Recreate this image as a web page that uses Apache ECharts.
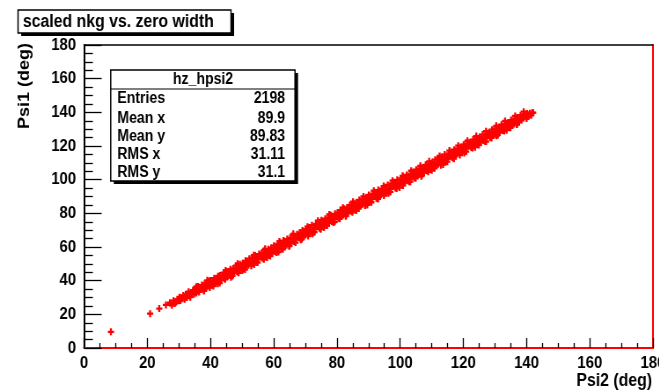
<!DOCTYPE html>
<html><head><meta charset="utf-8">
<script src="https://cdn.jsdelivr.net/npm/echarts@6/dist/echarts.min.js"></script>
<style>
html,body{margin:0;padding:0;background:#fff;overflow:hidden;width:659px;height:390px;}
#chart{width:749px;height:390px;transform:scaleX(0.88);transform-origin:0 0;}
</style></head><body><div id="chart"></div>
<script>
const titleText = 'scaled nkg vs. zero width';
const xAxisTitle = 'Psi2 (deg)';
const yAxisTitle = 'Psi1 (deg)';
const histName = 'hz_hpsi2';
const statsLabels = ['Entries', 'Mean x', 'Mean y', 'RMS x', 'RMS y'];
const statsValues = ['2198', '89.9', '89.83', '31.11', '31.1'];
const xRange = [0, 180, 20];
const yRange = [0, 180, 20];
// isolated low points [Psi2, Psi1]
const lowPoints = [[8.5,9.6],[20.9,20.4],[23.8,23.4],[25.9,25.6]];
// main band of points [Psi2, Psi1]
const bandPoints = [
[27.2,26.9],[27.8,25.4],[28.3,28.1],[28.7,26.5],[29.1,27.2],[29.6,29.0],[29.9,28.0],
[30.2,30.1],[30.5,28.2],[30.9,29.3],[31.0,29.5],[31.4,31.2],[31.8,28.9],
[32.2,31.8],[32.5,30.0],[32.9,31.1],[33.1,33.4],[33.4,31.0],[33.8,32.2],
[34.0,32.4],[34.5,34.3],[34.8,31.9],[35.2,34.9],[35.5,32.6],[35.9,33.8],
[36.1,36.6],[36.4,33.3],[36.8,35.2],[37.0,34.7],[37.3,37.4],[37.7,36.1],[37.9,33.9],
[38.2,38.3],[38.5,35.4],[38.9,36.9],[39.1,37.2],[39.4,39.6],[39.8,35.9],
[40.0,40.1],[40.3,37.6],[40.7,39.0],[40.9,36.8],[41.2,41.5],[41.5,38.8],[41.8,40.2],
[42.1,39.3],[42.4,42.6],[42.7,41.0],[42.9,38.6],[43.0,43.1],[43.4,40.4],[43.8,42.0],
[44.2,44.7],[44.5,41.3],[44.9,43.2],[44.6,40.8],[45.1,45.4],[45.4,42.5],[45.8,44.1],
[46.0,43.2],[46.3,46.8],[46.6,45.0],[46.9,42.8],[47.2,47.3],[47.5,44.6],[47.8,46.0],
[48.1,48.9],[48.4,45.3],[48.7,47.2],[48.9,44.7],[49.0,46.4],[49.3,49.7],[49.7,48.1],
[50.2,50.4],[50.5,47.1],[50.8,49.3],[50.9,46.6],[51.1,51.8],[51.4,48.7],[51.8,50.2],
[52.0,49.2],[52.3,53.0],[52.6,51.1],[52.9,48.9],[53.2,53.5],[53.5,50.4],[53.9,52.3],
[54.1,54.9],[54.4,51.2],[54.7,53.1],[54.9,50.8],[55.0,52.6],[55.4,55.8],[55.8,54.2],
[56.2,56.4],[56.5,53.3],[56.8,55.0],[56.9,52.7],[57.1,57.9],[57.4,54.5],[57.7,56.3],
[58.0,55.1],[58.3,58.7],[58.6,57.0],[58.9,54.6],[59.2,59.4],[59.5,56.2],[59.9,58.1],
[60.1,60.8],[60.4,57.3],[60.7,59.2],[60.9,56.7],[61.0,58.4],[61.4,61.9],[61.8,60.0],
[62.2,62.3],[62.5,59.1],[62.8,61.2],[62.9,58.6],[63.1,63.8],[63.4,60.6],[63.7,62.1],
[64.0,61.0],[64.3,64.7],[64.6,63.0],[64.9,60.5],[65.2,65.3],[65.5,62.3],[65.9,64.2],
[66.1,66.9],[66.4,63.2],[66.7,65.1],[66.9,62.6],[67.0,64.5],[67.4,67.6],[67.8,66.0],
[68.2,68.4],[68.5,65.0],[68.8,67.2],[68.9,64.7],[69.1,69.8],[69.4,66.6],[69.7,68.1],
[70.0,67.1],[70.3,70.6],[70.6,69.0],[70.9,66.5],[71.2,71.4],[71.5,68.2],[71.9,70.3],
[72.1,72.9],[72.4,69.1],[72.7,71.0],[72.9,68.8],[73.0,70.5],[73.4,73.7],[73.8,72.2],
[74.2,74.3],[74.5,71.2],[74.8,73.1],[74.9,70.6],[75.1,75.9],[75.4,72.4],[75.7,74.0],
[76.0,73.0],[76.3,76.8],[76.6,75.1],[76.9,72.7],[77.2,77.5],[77.5,74.3],[77.9,76.2],
[78.1,78.9],[78.4,75.2],[78.7,77.0],[78.9,74.6],[79.0,76.6],[79.4,79.7],[79.8,78.1],
[80.2,80.4],[80.5,77.1],[80.8,79.3],[80.9,76.8],[81.1,81.9],[81.4,78.5],[81.7,80.0],
[82.0,79.0],[82.3,82.7],[82.6,81.2],[82.9,78.7],[83.2,83.3],[83.5,80.3],[83.9,82.1],
[84.1,84.8],[84.4,81.2],[84.7,83.0],[84.9,80.6],[85.0,82.5],[85.4,85.7],[85.8,84.2],
[86.2,86.4],[86.5,83.1],[86.8,85.0],[86.9,82.8],[87.1,87.9],[87.4,84.6],[87.7,86.1],
[88.0,85.2],[88.3,88.6],[88.6,87.0],[88.9,84.7],[89.2,89.3],[89.5,86.2],[89.9,88.2],
[90.1,90.9],[90.4,87.3],[90.7,89.1],[90.9,86.6],[91.0,88.4],[91.4,91.7],[91.8,90.0],
[92.2,92.4],[92.5,89.0],[92.8,91.2],[92.9,88.7],[93.1,93.8],[93.4,90.5],[93.7,92.0],
[94.0,91.1],[94.3,94.6],[94.6,93.1],[94.9,90.6],[95.2,95.4],[95.5,92.2],[95.9,94.1],
[96.1,96.9],[96.4,93.2],[96.7,95.0],[96.9,92.7],[97.0,94.5],[97.4,97.8],[97.8,96.2],
[98.2,98.3],[98.5,95.1],[98.8,97.1],[98.9,94.8],[99.1,99.9],[99.4,96.5],[99.7,98.0],
[100.0,97.1],[100.3,100.7],[100.6,99.1],[100.9,96.6],[101.2,101.4],[101.5,98.2],[101.9,100.2],
[102.1,102.8],[102.4,99.3],[102.7,101.0],[102.9,98.7],[103.0,100.4],[103.4,103.6],[103.8,102.1],
[104.2,104.4],[104.5,101.1],[104.8,103.2],[104.9,100.8],[105.1,105.9],[105.4,102.5],[105.7,104.0],
[106.0,103.1],[106.3,106.7],[106.6,105.1],[106.9,102.6],[107.2,107.3],[107.5,104.2],[107.9,106.1],
[108.1,108.8],[108.4,105.3],[108.7,107.0],[108.9,104.7],[109.0,106.5],[109.4,109.6],[109.8,108.2],
[110.2,110.4],[110.5,107.1],[110.8,109.2],[110.9,106.8],[111.1,111.9],[111.4,108.6],[111.7,110.0],
[112.0,109.1],[112.3,112.7],[112.6,111.1],[112.9,108.6],[113.2,113.4],[113.5,110.2],[113.9,112.1],
[114.1,114.9],[114.4,111.2],[114.7,113.0],[114.9,110.7],[115.0,112.4],[115.4,115.6],[115.8,114.2],
[116.2,116.3],[116.5,113.1],[116.8,115.2],[116.9,112.8],[117.1,117.8],[117.4,114.5],[117.7,116.0],
[118.0,115.2],[118.3,118.6],[118.6,117.1],[118.9,114.6],[119.2,119.4],[119.5,116.2],[119.9,118.1],
[120.1,120.8],[120.4,117.2],[120.7,119.0],[120.9,116.7],[121.0,118.4],[121.4,121.6],[121.8,120.1],
[122.2,122.3],[122.5,119.1],[122.8,121.2],[122.9,118.8],[123.1,123.8],[123.4,120.4],[123.7,122.0],
[124.0,121.0],[124.3,124.5],[124.6,123.1],[124.9,120.6],[125.2,125.3],[125.5,122.2],[125.9,124.1],
[126.1,126.8],[126.4,123.3],[126.7,125.0],[126.9,122.7],[127.0,124.5],[127.4,127.5],[127.8,126.1],
[128.2,128.2],[128.5,125.1],[128.8,127.2],[128.9,124.8],[129.1,129.7],[129.4,126.4],[129.7,128.0],
[130.0,127.0],[130.3,130.4],[130.6,129.0],[130.9,126.6],[131.2,131.1],[131.5,128.1],[131.9,130.0],
[132.1,132.6],[132.4,129.2],[132.7,131.0],[132.9,128.9],[133.0,130.4],[133.4,133.3],[133.8,132.0],
[134.2,134.0],[134.5,131.1],[134.8,133.1],[134.9,130.8],[135.1,135.4],[135.4,132.3],[135.7,134.0],
[136.0,133.1],[136.3,136.2],[136.6,135.0],[136.9,132.8],[137.2,137.0],[137.5,134.2],[137.9,136.1],
[138.1,138.3],[138.4,135.4],[138.7,137.0],[139.0,136.6],[139.4,138.9],[139.8,137.8],
[140.2,139.3],[140.5,137.5],[140.8,138.6],[141.1,139.4],[141.5,138.3],[141.8,139.7],[142.1,139.8]
];
// scattered points along the upper and lower edges of the band [Psi2, Psi1]
const bandEdgePoints = [
[35.5,36.4],[39.0,40.2],[44.8,46.1],[48.6,50.0],[53.7,55.1],[57.3,58.9],[61.8,63.3],[66.2,67.8],
[70.7,72.1],[74.0,75.6],[77.6,79.3],[81.9,83.3],[85.1,86.9],[88.4,90.0],[91.7,93.4],[94.8,96.2],
[97.6,99.4],[100.8,102.3],[103.5,105.3],[106.4,108.2],[109.2,110.9],[112.5,114.1],[115.6,117.3],
[118.4,120.2],[121.3,123.1],[124.1,125.9],[127.2,128.8],[130.4,132.0],[133.2,134.9],[136.4,137.8],[139.1,140.4],
[33.6,30.2],[38.0,34.3],[42.3,38.1],[46.5,42.0],[50.1,46.0],[53.8,49.6],[57.9,53.7],[61.5,57.0],
[65.0,60.8],[68.6,64.3],[72.3,67.9],[75.9,71.6],[79.3,75.0],[82.8,78.3],[86.1,81.7],[89.6,85.0],
[93.0,88.6],[96.3,91.9],[99.8,95.3],[103.2,98.8],[106.7,102.1],[110.0,105.6],[113.6,109.0],[117.0,112.5],
[120.3,115.8],[123.7,119.3],[127.2,122.6],[130.5,126.1],[133.7,129.4],[137.0,132.9],[140.0,136.3]
];

const FONT = "'Liberation Sans', Arial, Helvetica, sans-serif";
const RED = '#ff0000';
const crossPath = 'path://M2,0H4V2H6V4H4V6H2V4H0V2H2Z';

const chart = echarts.init(document.getElementById('chart'), null, {renderer: 'canvas'});

const labelStyle = {color: '#000', fontFamily: FONT, fontWeight: 'bold', fontSize: 17};

function statsGraphics() {
  const bx = 125.8, by = 70, bw = 209.4, bh = 111;
  const els = [
    {type: 'rect', z: 10, shape: {x: bx + 3.5, y: by + 3, width: bw, height: bh}, style: {fill: '#000'}},
    {type: 'rect', z: 11, shape: {x: bx, y: by, width: bw, height: bh}, style: {fill: '#fff', stroke: '#000', lineWidth: 1.5}},
    {type: 'line', z: 12, shape: {x1: bx, y1: 89, x2: bx + bw, y2: 89}, style: {stroke: '#000', lineWidth: 1.2}},
    {type: 'text', z: 12, x: 230.7, y: 80, style: {text: histName, font: 'bold 16px ' + FONT, fill: '#000', textAlign: 'center', textVerticalAlign: 'middle', align: 'center', verticalAlign: 'middle'}}
  ];
  const rowY = [98.8, 118.3, 136.2, 155, 172.5];
  statsLabels.forEach((lab, i) => {
    els.push({type: 'text', z: 12, x: 133.3, y: rowY[i], style: {text: lab, font: 'bold 16px ' + FONT, fill: '#000', textAlign: 'left', textVerticalAlign: 'middle', align: 'left', verticalAlign: 'middle'}});
    els.push({type: 'text', z: 12, x: 324, y: rowY[i], style: {text: statsValues[i], font: 'bold 16px ' + FONT, fill: '#000', textAlign: 'right', textVerticalAlign: 'middle', align: 'right', verticalAlign: 'middle'}});
  });
  return els;
}

const scatterBase = {
  type: 'scatter', xAxisIndex: 0, yAxisIndex: 0,
  symbol: crossPath, symbolSize: 7, itemStyle: {color: RED, opacity: 1},
  emphasis: {disabled: true}, silent: true
};

const option = {
  backgroundColor: '#fff',
  animation: false,
  grid: {left: 95.5, right: 7, top: 45, bottom: 42, containLabel: false, outerBoundsMode: 'none'},
  xAxis: [{
    type: 'value', position: 'bottom', min: xRange[0], max: xRange[1], interval: xRange[2],
    axisLine: {show: true, onZero: false, lineStyle: {color: RED, width: 2}},
    axisTick: {show: true, inside: true, length: 10, lineStyle: {color: '#000', width: 1.3}},
    minorTick: {show: true, splitNumber: 4, length: 5, lineStyle: {color: '#000', width: 1.3}},
    splitLine: {show: false},
    axisLabel: Object.assign({margin: 7, hideOverlap: false}, labelStyle)
  }, {
    type: 'value', position: 'top', min: xRange[0], max: xRange[1], interval: xRange[2],
    axisLine: {show: true, onZero: false, lineStyle: {color: '#000', width: 1.5}},
    axisTick: {show: false}, axisLabel: {show: false}, splitLine: {show: false}
  }],
  yAxis: [{
    type: 'value', position: 'left', min: yRange[0], max: yRange[1], interval: yRange[2],
    axisLine: {show: true, onZero: false, lineStyle: {color: '#000', width: 2}},
    axisTick: {show: true, inside: true, length: 20, lineStyle: {color: '#000', width: 1.3}},
    minorTick: {show: true, splitNumber: 4, length: 10, lineStyle: {color: '#000', width: 1.3}},
    splitLine: {show: false},
    axisLabel: Object.assign({margin: 9}, labelStyle)
  }, {
    type: 'value', position: 'right', min: yRange[0], max: yRange[1], interval: yRange[2],
    axisLine: {show: true, onZero: false, lineStyle: {color: RED, width: 2}},
    axisTick: {show: false}, axisLabel: {show: false}, splitLine: {show: false}
  }],
  series: [
    Object.assign({data: bandPoints}, scatterBase),
    Object.assign({data: bandEdgePoints}, scatterBase),
    Object.assign({data: lowPoints}, scatterBase)
  ],
  graphic: [
    {type: 'rect', z: 10, shape: {x: 24, y: 13, width: 242, height: 23}, style: {fill: '#000'}},
    {type: 'rect', z: 11, shape: {x: 20.5, y: 10, width: 242, height: 23}, style: {fill: '#fff', stroke: '#000', lineWidth: 1.5}},
    {type: 'text', z: 12, x: 26, y: 22, style: {text: titleText, font: 'bold 18px ' + FONT, fill: '#000', textAlign: 'left', textVerticalAlign: 'middle', align: 'left', verticalAlign: 'middle'}},
    {type: 'text', z: 12, x: 741, y: 381, style: {text: xAxisTitle, font: 'bold 18px ' + FONT, fill: '#000', textAlign: 'right', textVerticalAlign: 'middle', align: 'right', verticalAlign: 'middle'}},
    {type: 'text', z: 12, x: 28.4, y: 43, rotation: Math.PI / 2, style: {text: yAxisTitle, font: 'bold 18px ' + FONT, fill: '#000', textAlign: 'right', textVerticalAlign: 'middle', align: 'right', verticalAlign: 'middle'}}
  ].concat(statsGraphics())
};
chart.setOption(option);
</script></body></html>
